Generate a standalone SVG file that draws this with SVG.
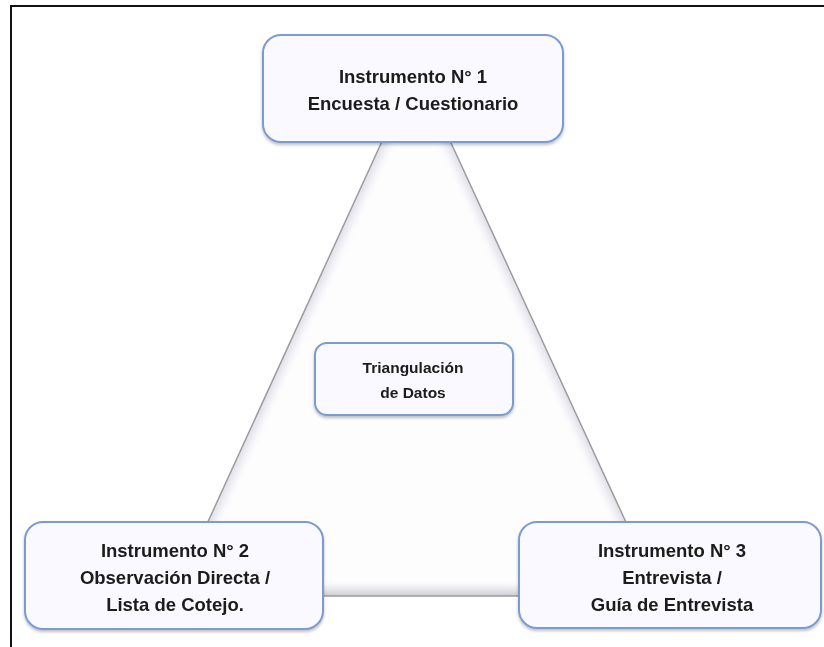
<svg xmlns="http://www.w3.org/2000/svg" width="824" height="647" viewBox="0 0 824 647">
  <style>
    .box { fill: #faf9ff; stroke: #7b9bd0; stroke-width: 2; }
    .lbl { font-family: "Liberation Sans", Arial, sans-serif; font-weight: bold; font-size: 18.5px; fill: #1a1a1a; text-anchor: middle; }
    .small { font-size: 15.5px; }
    .frame { stroke: #111; stroke-width: 2; fill: none; }
  </style>
  <defs>
    <filter id="shadow" x="-10%" y="-10%" width="120%" height="130%">
      <feGaussianBlur in="SourceAlpha" stdDeviation="1.5"/>
      <feOffset dx="0" dy="2" result="b"/>
      <feComponentTransfer><feFuncA type="linear" slope="0.25"/></feComponentTransfer>
      <feMerge><feMergeNode/><feMergeNode in="SourceGraphic"/></feMerge>
    </filter>
    <filter id="blur4"><feGaussianBlur stdDeviation="4"/></filter>
    <clipPath id="triClip"><polygon points="416,67 174,596 660,596"/></clipPath>
    <linearGradient id="bottomBar" x1="0" y1="0" x2="0" y2="1">
      <stop offset="0" stop-color="#ffffff" stop-opacity="0"/>
      <stop offset="0.6" stop-color="#e4e4ea"/>
      <stop offset="1" stop-color="#c8c8cc"/>
    </linearGradient>
  </defs>

  <!-- frame -->
  <path class="frame" d="M11,647 V6 H824"/>

  <g id="connectors">
    <polygon points="416,67 174,596 660,596" fill="#fdfdfe"/>
    <g clip-path="url(#triClip)">
      <polygon points="416,67 174,596 660,596" fill="none" stroke="#dcdce6" stroke-width="10" filter="url(#blur4)"/>
      <rect x="170" y="580" width="500" height="17" fill="url(#bottomBar)"/>
    </g>
    <polygon points="416,67 174,596 660,596" fill="none" stroke="#9c9c9c" stroke-width="1.5"/>
  </g>

  <g id="node1" filter="url(#shadow)">
    <rect class="box" x="263" y="35" width="300" height="107" rx="18"/>
    <text class="lbl" x="413" y="83">Instrumento N° 1</text>
    <text class="lbl" x="413" y="110">Encuesta / Cuestionario</text>
  </g>

  <g id="center" filter="url(#shadow)">
    <rect class="box" x="315" y="343" width="198" height="72" rx="12"/>
    <text class="lbl small" x="413" y="373">Triangulación</text>
    <text class="lbl small" x="413" y="398">de Datos</text>
  </g>

  <g id="node2" filter="url(#shadow)">
    <rect class="box" x="25" y="522" width="298" height="107" rx="18"/>
    <text class="lbl" x="175" y="557">Instrumento N° 2</text>
    <text class="lbl" x="175" y="584">Observación Directa /</text>
    <text class="lbl" x="175" y="611">Lista de Cotejo.</text>
  </g>

  <g id="node3" filter="url(#shadow)">
    <rect class="box" x="519" y="522" width="302" height="106" rx="18"/>
    <text class="lbl" x="672" y="557">Instrumento N° 3</text>
    <text class="lbl" x="672" y="584">Entrevista /</text>
    <text class="lbl" x="672" y="611">Guía de Entrevista</text>
  </g>
</svg>
